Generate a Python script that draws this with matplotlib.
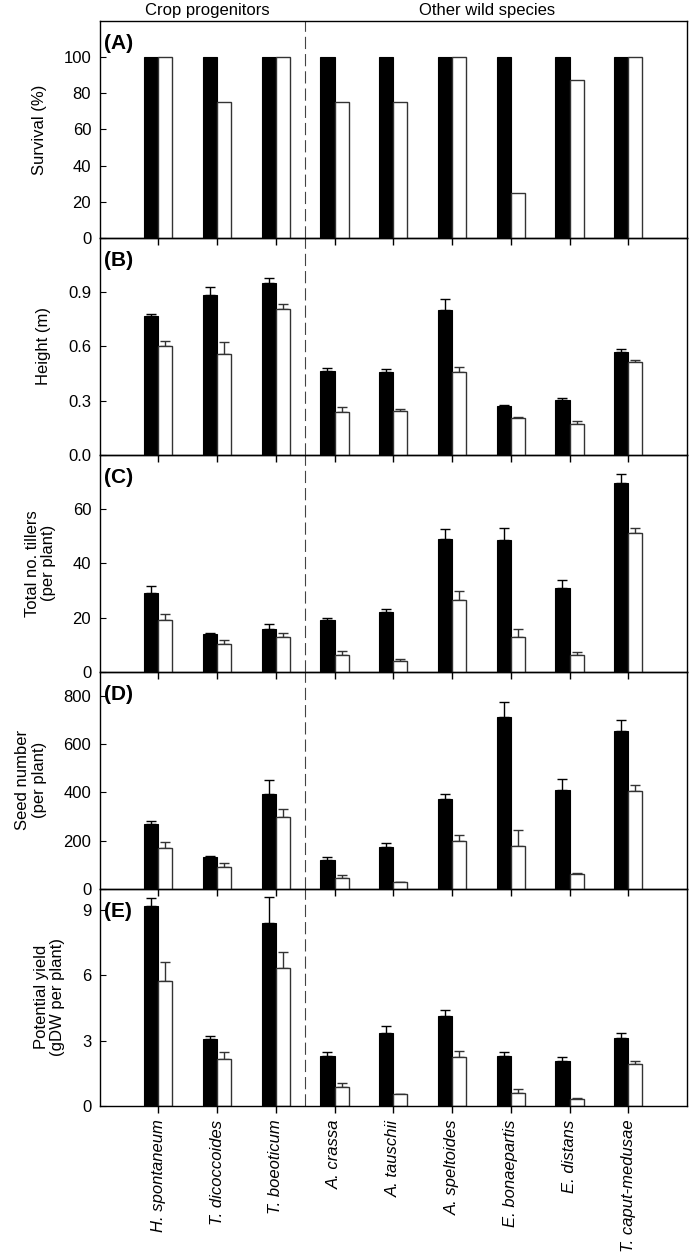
import matplotlib
matplotlib.use("Agg")
import matplotlib.pyplot as plt
import numpy as np

plt.rcParams["font.family"] = ["Liberation Sans", "DejaVu Sans"]
plt.rcParams["font.size"] = 12

species = [
    "H. spontaneum", "T. dicoccoides", "T. boeoticum", "A. crassa",
    "A. tauschii", "A. speltoides", "E. bonaepartis", "E. distans",
    "T. caput-medusae",
]
group_labels = ["Crop progenitors", "Other wild species"]

# (A) survival, no error bars
survival_ctrl = [100, 100, 100, 100, 100, 100, 100, 100, 100]
survival_stress = [100, 75, 100, 75, 75, 100, 25, 87.5, 100]

# (B) height (m)
height_ctrl = [0.770, 0.885, 0.950, 0.465, 0.457, 0.802, 0.270, 0.306, 0.570]
height_ctrl_err = [0.011, 0.043, 0.028, 0.015, 0.019, 0.059, 0.004, 0.011, 0.017]
height_stress = [0.604, 0.557, 0.809, 0.235, 0.241, 0.456, 0.206, 0.170, 0.513]
height_stress_err = [0.024, 0.067, 0.028, 0.028, 0.013, 0.028, 0.004, 0.015, 0.013]

# (C) total tillers per plant
tillers_ctrl = [29.2, 13.8, 15.8, 19.1, 22.2, 48.8, 48.6, 30.8, 69.6]
tillers_ctrl_err = [2.4, 0.6, 2.0, 0.7, 0.9, 3.7, 4.5, 2.9, 3.2]
tillers_stress = [19.1, 10.4, 12.7, 6.1, 4.1, 26.3, 12.9, 6.2, 51.2]
tillers_stress_err = [2.3, 1.5, 1.7, 1.5, 0.5, 3.6, 3.0, 1.1, 1.7]

# (D) seed number per plant
seeds_ctrl = [267, 130, 394, 120, 172, 372, 713, 411, 653]
seeds_ctrl_err = [12, 6, 55, 10, 16, 23, 61, 44, 46]
seeds_stress = [169, 90, 297, 45, 26, 200, 177, 61, 405]
seeds_stress_err = [24, 15, 35, 11, 3, 23, 66, 4, 24]

# (E) potential yield (gDW per plant)
yield_ctrl = [9.20, 3.06, 8.42, 2.29, 3.33, 4.15, 2.27, 2.04, 3.10]
yield_ctrl_err = [0.39, 0.17, 1.20, 0.17, 0.34, 0.27, 0.20, 0.22, 0.25]
yield_stress = [5.76, 2.14, 6.34, 0.86, 0.52, 2.23, 0.57, 0.32, 1.92]
yield_stress_err = [0.85, 0.35, 0.73, 0.20, 0.03, 0.29, 0.21, 0.02, 0.14]

panels = [
    ("(A)", "Survival (%)", survival_ctrl, None, survival_stress, None,
     120, [0, 20, 40, 60, 80, 100], "{:.0f}"),
    ("(B)", "Height (m)", height_ctrl, height_ctrl_err, height_stress,
     height_stress_err, 1.2, [0.0, 0.3, 0.6, 0.9], "{:.1f}"),
    ("(C)", "Total no. tillers\n(per plant)", tillers_ctrl, tillers_ctrl_err,
     tillers_stress, tillers_stress_err, 80, [0, 20, 40, 60], "{:.0f}"),
    ("(D)", "Seed number\n(per plant)", seeds_ctrl, seeds_ctrl_err,
     seeds_stress, seeds_stress_err, 900, [0, 200, 400, 600, 800], "{:.0f}"),
    ("(E)", "Potential yield\n(gDW per plant)", yield_ctrl, yield_ctrl_err,
     yield_stress, yield_stress_err, 10, [0, 3, 6, 9], "{:.0f}"),
]

x = np.arange(1, len(species) + 1)
w = 0.24
grey = "#333333"

fig, axes = plt.subplots(5, 1, figsize=(6.92, 12.57), dpi=100, sharex=True)
fig.subplots_adjust(left=0.1438, right=0.9928, top=0.9833, bottom=0.1204,
                    hspace=0)

for i, (ax, (tag, ylab, c, ce, s, se, ymax, yt, fmt)) in enumerate(zip(axes, panels)):
    # upper panels on top, no background, so outward x ticks show in the next panel
    ax.set_zorder(len(axes) - i)
    ax.patch.set_visible(False)
    ax.bar(x - w / 2, c, w, color="black", edgecolor="black", linewidth=0.8,
           zorder=2)
    ax.bar(x + w / 2, s, w, color="white", edgecolor=grey, linewidth=1.0,
           zorder=2)
    if ce is not None:
        ax.errorbar(x - w / 2, c, yerr=[np.zeros(len(ce)), ce], fmt="none",
                    ecolor="black", elinewidth=1.0, capsize=3.5,
                    capthick=1.0, zorder=1)
        ax.errorbar(x + w / 2, s, yerr=[np.zeros(len(se)), se], fmt="none",
                    ecolor=grey, elinewidth=1.0, capsize=3.5,
                    capthick=1.0, zorder=1)
    ax.axvline(3.5, color="#444444", linewidth=0.8, dashes=(11, 4.5), zorder=0)
    ax.set_xlim(0, 10)
    ax.set_ylim(0, ymax)
    ax.set_yticks(yt)
    ax.set_yticklabels([fmt.format(v) for v in yt])
    ax.tick_params(axis="y", direction="in", length=4, pad=6, labelsize=12)
    ax.tick_params(axis="x", direction="out", length=5, width=1.0, pad=5,
                   labelsize=12, bottom=True)
    ax.set_ylabel(ylab, fontsize=12, labelpad=12, linespacing=1.1)
    ax.text(0.008, 0.94, tag, transform=ax.transAxes, ha="left", va="top",
            fontsize=15, fontweight="bold")
    for sp in ax.spines.values():
        sp.set_linewidth(1.0)

axes[-1].set_xticks(x)
axes[-1].set_xticklabels(species, rotation=90, style="italic", va="top",
                         ha="center")

for xc, lab in zip([1.84, 6.6], group_labels):
    axes[0].annotate(lab, xy=(xc, 1.0), xycoords=("data", "axes fraction"),
                     xytext=(0, 2), textcoords="offset points",
                     ha="center", va="bottom", fontsize=12)

fig.savefig("out.png", dpi=100, facecolor="white")
